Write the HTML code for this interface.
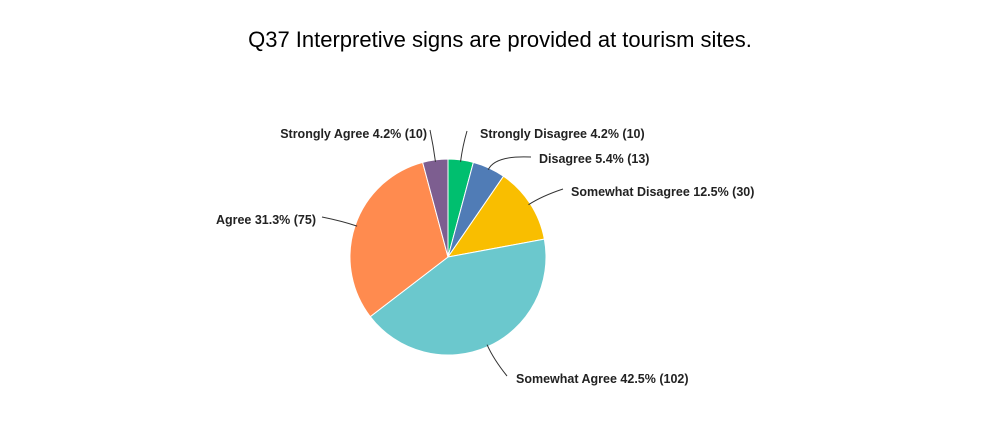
<!DOCTYPE html>
<html><head><meta charset="utf-8"><style>
body{margin:0;background:#fff;font-family:"Liberation Sans",sans-serif}
svg{display:block}
</style></head><body>
<svg width="1000" height="430">
<text x="500" y="47" text-anchor="middle" font-size="22" fill="#000">Q37 Interpretive signs are provided at tourism sites.</text>
<g id="slices"></g><g id="labels"></g>
</svg>
<script>
const categories=["Strongly Disagree","Disagree","Somewhat Disagree","Somewhat Agree","Agree","Strongly Agree"];
const counts=[10,13,30,102,75,10];
const percents=["4.2%","5.4%","12.5%","42.5%","31.3%","4.2%"];
const colors=["#00bf6f","#507cb6","#f9be00","#6bc8cd","#ff8b4f","#7d5e90"];
const cx=448,cy=257,r=98;
const labelPos=[[480,138,"start",467,131],[539,163,"start",531,157],[571,196,"start",563,189],[516,383,"start",507,376],[316,224,"end",322,217],[427,138,"end",430,130]];
const ns="http://www.w3.org/2000/svg";
const total=counts.reduce((a,b)=>a+b,0);
const gS=document.getElementById('slices'),gL=document.getElementById('labels');
function pt(a,rr){return [cx+rr*Math.sin(a),cy-rr*Math.cos(a)];}
let acc=0;
counts.forEach((v,i)=>{
  const a0=acc/total*2*Math.PI;acc+=v;const a1=acc/total*2*Math.PI;
  const p0=pt(a0,r),p1=pt(a1,r);
  const path=document.createElementNS(ns,'path');
  path.setAttribute('d',`M${cx},${cy}L${p0[0]},${p0[1]}A${r},${r} 0 ${a1-a0>Math.PI?1:0} 1 ${p1[0]},${p1[1]}Z`);
  path.setAttribute('fill',colors[i]);path.setAttribute('stroke','#fff');path.setAttribute('stroke-width','1');
  
  
  gS.appendChild(path);
  const am=(a0+a1)/2,s=pt(am,r-2),m=pt(am,r+14);
  const L=labelPos[i];
  const ln=document.createElementNS(ns,'path');
  ln.setAttribute('d',`M${s[0]},${s[1]}Q${m[0]},${m[1]} ${L[3]},${L[4]}`);
  ln.setAttribute('fill','none');ln.setAttribute('stroke','#333');ln.setAttribute('stroke-width','1');
  
  
  gL.appendChild(ln);
  const t=document.createElementNS(ns,'text');
  t.setAttribute('x',L[0]);t.setAttribute('y',L[1]);t.setAttribute('text-anchor',L[2]);
  t.setAttribute('font-size','12.5');t.setAttribute('font-weight','bold');t.setAttribute('fill','#222');
  t.textContent=`${categories[i]} ${percents[i]} (${v})`;
  
  
  gL.appendChild(t);
});
</script>
</body></html>
